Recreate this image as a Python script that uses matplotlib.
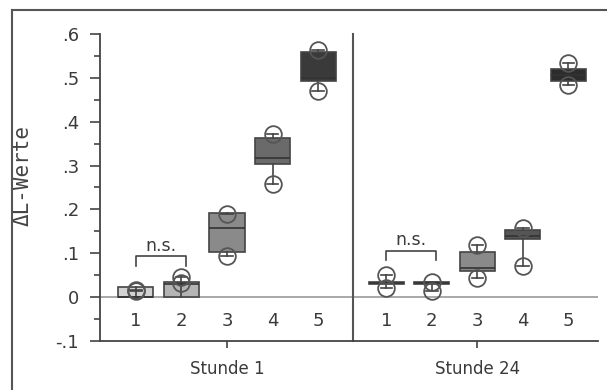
import matplotlib
matplotlib.use("Agg")
import matplotlib.pyplot as plt
from matplotlib.lines import Line2D

# values (Delta L per sample, quartiles and extremes)
groups = ["Stunde 1", "Stunde 24"]
categories = ["1", "2", "3", "4", "5"]

s1_q1 = [0.0, 0.0, 0.103, 0.304, 0.492]
s1_med = [0.0, 0.030, 0.158, 0.318, 0.499]
s1_q3 = [0.022, 0.035, 0.192, 0.364, 0.558]
s1_lo = [0.013, 0.032, 0.094, 0.258, 0.471]
s1_hi = [0.017, 0.045, 0.190, 0.373, 0.563]

s24_q1 = [0.031, 0.030, 0.060, 0.132, 0.492]
s24_med = [0.033, 0.032, 0.066, 0.140, 0.506]
s24_q3 = [0.035, 0.034, 0.104, 0.153, 0.520]
s24_lo = [0.020, 0.014, 0.044, 0.071, 0.483]
s24_hi = [0.050, 0.035, 0.120, 0.158, 0.533]

s1_colors = ["#d2d2d2", "#b4b4b4", "#8a8a8a", "#6a6a6a", "#3a3a3a"]
s24_colors = ["#d2d2d2", "#b4b4b4", "#8a8a8a", "#555555", "#2c2c2c"]

y_ticks = [-0.1, 0, 0.1, 0.2, 0.3, 0.4, 0.5, 0.6]
y_ticklabels = ["-.1", "0", ".1", ".2", ".3", ".4", ".5", ".6"]

EDGE = "#444444"
TXT = "#3a3a3a"

fig = plt.figure(figsize=(6.07, 3.90), dpi=100)
ax = fig.add_axes([100 / 607, 49 / 390, 498 / 607, 307 / 390])

pos1 = [1, 2, 3, 4, 5]
pos24 = [p + 5.5 for p in pos1]


def draw_group(positions, q1, med, q3, lo, hi, colors):
    stats = []
    for i in range(len(positions)):
        stats.append({
            "q1": q1[i], "med": med[i], "q3": q3[i],
            "whislo": lo[i], "whishi": hi[i], "fliers": [],
        })
    bp = ax.bxp(stats, positions=positions, widths=0.77, capwidths=0.25,
                patch_artist=True, showfliers=False,
                boxprops=dict(edgecolor=EDGE, linewidth=1.2),
                medianprops=dict(color="#333333", linewidth=1.2),
                whiskerprops=dict(color=EDGE, linewidth=1.2),
                capprops=dict(color=EDGE, linewidth=1.2))
    for patch, c in zip(bp["boxes"], colors):
        patch.set_facecolor(c)
    ax.plot(positions, lo, "o", ms=12, mfc="none", mec="#555555", mew=1.3, zorder=4)
    ax.plot(positions, hi, "o", ms=12, mfc="none", mec="#555555", mew=1.3, zorder=4)
    for p, lab in zip(positions, categories):
        ax.text(p, -0.055, lab, ha="center", va="center", fontsize=13, color=TXT)


ax.axhline(0, color="#999999", lw=1.2, zorder=1)
draw_group(pos1, s1_q1, s1_med, s1_q3, s1_lo, s1_hi, s1_colors)
draw_group(pos24, s24_q1, s24_med, s24_q3, s24_lo, s24_hi, s24_colors)

# divider between the two time points
ax.plot([5.77, 5.77], [-0.1, 0.6], color="#555555", lw=1.5, clip_on=False)

# n.s. brackets
ax.plot([1, 1, 2.1, 2.1], [0.071, 0.094, 0.094, 0.071], color=EDGE, lw=1.2)
ax.text(1.55, 0.097, "n.s.", ha="center", va="bottom", fontsize=12.5, color=TXT)
ax.plot([6.5, 6.5, 7.6, 7.6], [0.085, 0.106, 0.106, 0.085], color=EDGE, lw=1.2)
ax.text(7.05, 0.109, "n.s.", ha="center", va="bottom", fontsize=12.5, color=TXT)

ax.set_xlim(0.21, 11.15)
ax.set_ylim(-0.1, 0.6)
ax.set_yticks(y_ticks)
ax.set_yticklabels(y_ticklabels, fontsize=13, color=TXT)
ax.set_yticks([-0.05, 0.05, 0.15, 0.25, 0.35, 0.45, 0.55], minor=True)
ax.tick_params(axis="y", which="major", length=7, width=1.2, color=EDGE, pad=8)
ax.tick_params(axis="y", which="minor", length=4, width=1.2, color=EDGE)

ax.set_xticks([3, 8.5])
ax.set_xticklabels(groups, fontsize=12, color=TXT)
ax.tick_params(axis="x", length=5, width=1.2, color=EDGE, pad=9)

for s in ["top", "right"]:
    ax.spines[s].set_visible(False)
for s in ["left", "bottom"]:
    ax.spines[s].set_color(EDGE)
    ax.spines[s].set_linewidth(1.3)

ax.set_ylabel("ΔL-Werte", family=["DejaVu Sans Mono"],
              fontsize=15, color="#444444")
ax.yaxis.set_label_coords(-0.135, 0.54)

# outer frame (left and top edges visible)
fig.add_artist(Line2D([12 / 607, 12 / 607], [0, 380 / 390], color="#555555", lw=1.5))
fig.add_artist(Line2D([12 / 607, 1], [380 / 390, 380 / 390], color="#555555", lw=1.5))

fig.savefig("out.png", dpi=100)
